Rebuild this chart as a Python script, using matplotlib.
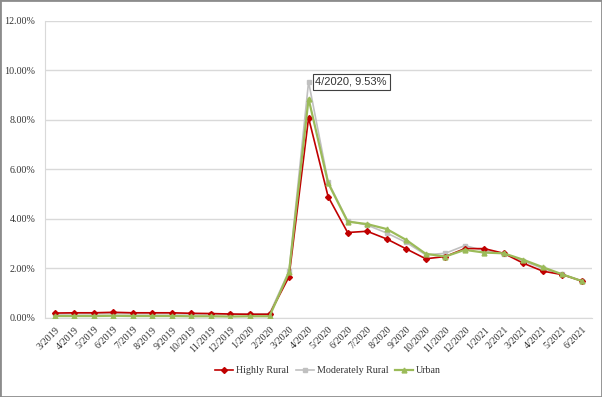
import matplotlib.pyplot as plt
from matplotlib.patches import Rectangle
from matplotlib.ticker import PercentFormatter

months = ['3/2019', '4/2019', '5/2019', '6/2019', '7/2019', '8/2019', '9/2019',
          '10/2019', '11/2019', '12/2019', '1/2020', '2/2020', '3/2020', '4/2020',
          '5/2020', '6/2020', '7/2020', '8/2020', '9/2020', '10/2020', '11/2020',
          '12/2020', '1/2021', '2/2021', '3/2021', '4/2021', '5/2021', '6/2021']

# unemployment-style rates, in percent
highly_rural = [0.20, 0.21, 0.21, 0.23, 0.21, 0.21, 0.21, 0.19, 0.18, 0.16, 0.15, 0.15,
                1.67, 8.08, 4.90, 3.45, 3.50, 3.19, 2.79, 2.39, 2.48, 2.80, 2.80, 2.61,
                2.21, 1.89, 1.75, 1.49]
moderately_rural = [0.16, 0.17, 0.17, 0.18, 0.17, 0.17, 0.17, 0.16, 0.16, 0.15, 0.16, 0.17,
                    1.90, 9.53, 5.50, 3.92, 3.75, 3.43, 3.05, 2.55, 2.61, 2.92, 2.72, 2.60,
                    2.30, 2.00, 1.76, 1.50]
urban = [0.08, 0.08, 0.08, 0.09, 0.08, 0.08, 0.08, 0.07, 0.07, 0.06, 0.07, 0.07,
         1.85, 8.85, 5.45, 3.89, 3.79, 3.59, 3.15, 2.59, 2.48, 2.75, 2.64, 2.61,
         2.35, 2.05, 1.76, 1.49]

plt.rcParams['font.family'] = 'Liberation Serif'

fig = plt.figure(figsize=(6.02, 3.97), dpi=100)
fig.add_artist(Rectangle((0, 0), 1, 1, transform=fig.transFigure, fill=False,
                         edgecolor='#8c8c8c', linewidth=2))
ax = fig.add_axes([0.0748, 0.199, 0.908, 0.749])

x = range(len(months))
ax.plot(x, highly_rural, color='#c00000', marker='D', markersize=3, linewidth=1.2,
        label='Highly Rural', zorder=3)
ax.plot(x, moderately_rural, color='#c0c0c0', marker='s', markersize=3.5, linewidth=1.2,
        label='Moderately Rural', zorder=2)
ax.plot(x, urban, color='#9bbb59', marker='^', markersize=3.5, linewidth=1.6,
        label='Urban', zorder=4)

ax.annotate('4/2020, 9.53%', xy=(13, 9.53), xytext=(13.35, 9.53), fontsize=8,
            family='Liberation Sans', va='center', ha='left', color='#333333',
            bbox=dict(boxstyle='square,pad=0.25', fc='white', ec='#404040', lw=0.8))

ax.set_xlim(-0.5, len(months) - 0.5)
ax.set_ylim(0, 12)
ax.set_yticks([0, 2, 4, 6, 8, 10, 12])
ax.yaxis.set_major_formatter(PercentFormatter(decimals=2))
ax.set_xticks(list(x))
ax.set_xticklabels(months, rotation=45, ha='right', rotation_mode='anchor')
ax.tick_params(axis='both', labelsize=7.2, length=0, colors='#333333')
ax.tick_params(axis='x', pad=5)
ax.tick_params(axis='y', pad=7)
ax.grid(axis='y', color='#d9d9d9', linewidth=1)
ax.set_axisbelow(True)
for s in ['top', 'right']:
    ax.spines[s].set_visible(False)
ax.spines['left'].set_color('#d9d9d9')
ax.spines['bottom'].set_color('#d9d9d9')

fig.legend(loc='center', bbox_to_anchor=(0.545, 0.066), ncol=3, frameon=False,
           fontsize=7.2, handlelength=1.8, columnspacing=0.7, handletextpad=0.3,
           labelcolor='#333333')

fig.savefig('out.png', dpi=100)
